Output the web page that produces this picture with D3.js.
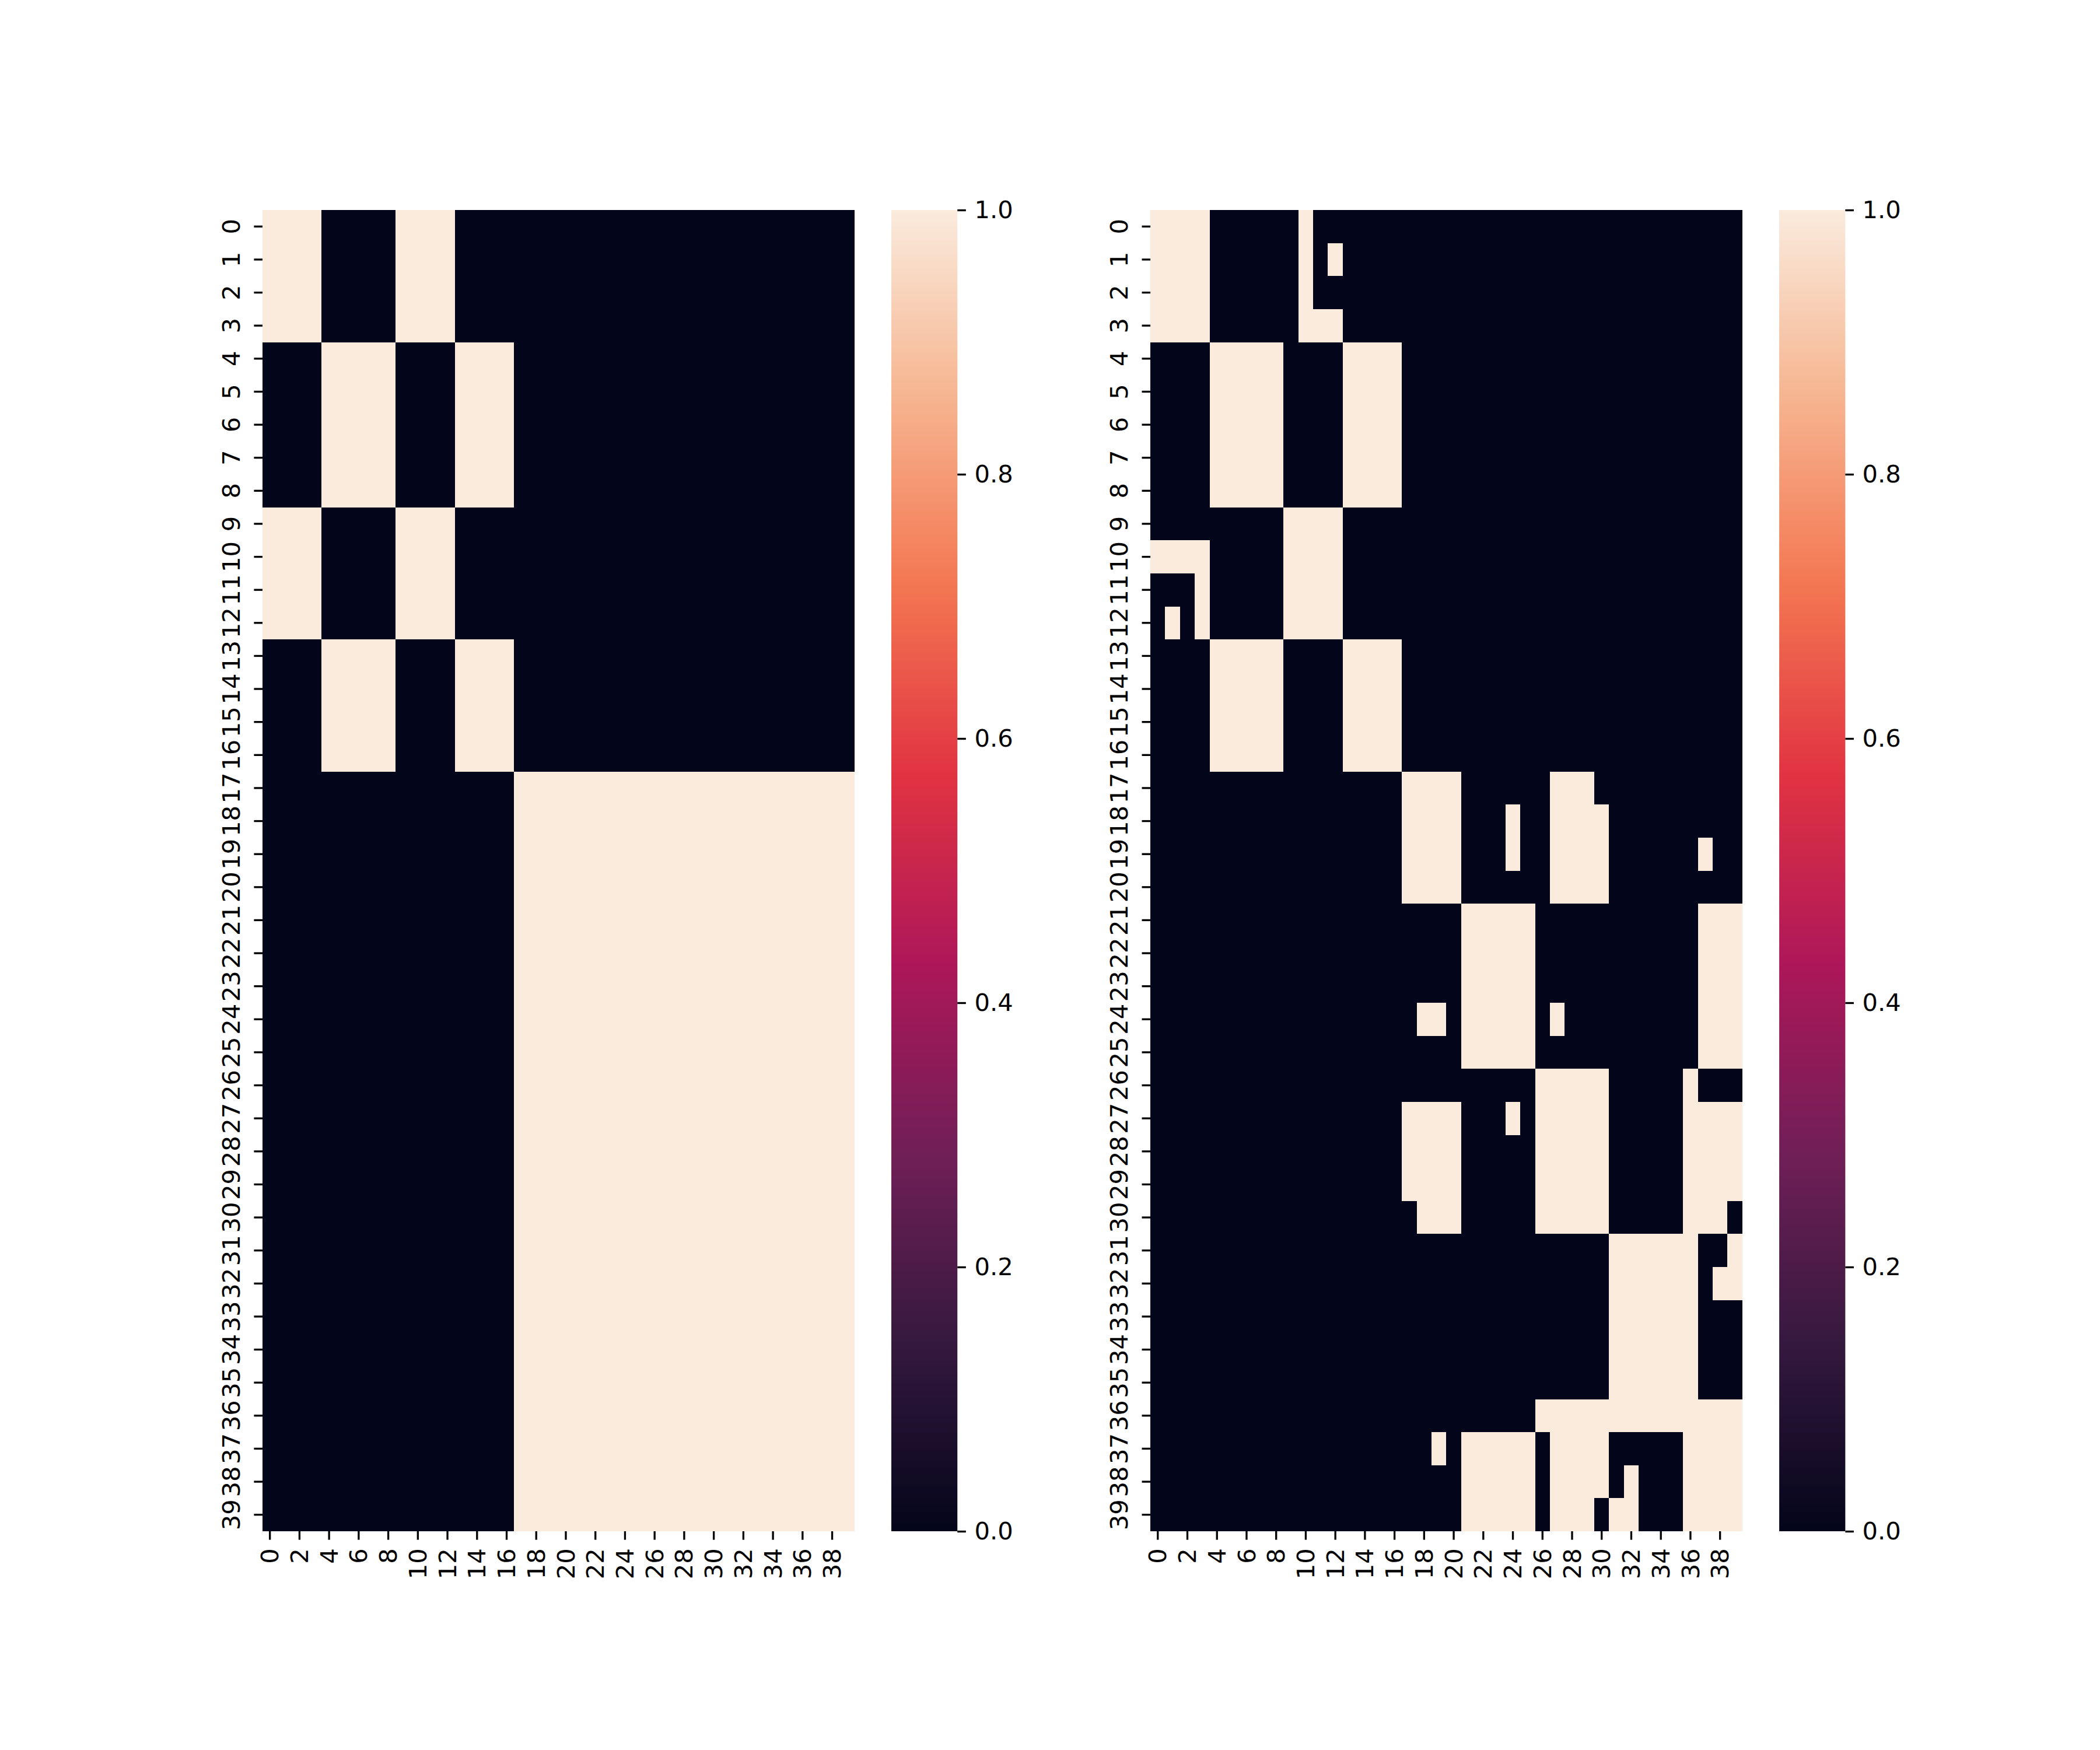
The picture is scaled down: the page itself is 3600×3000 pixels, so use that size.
<!DOCTYPE html>
<html>
<head>
<meta charset="utf-8">
<script src="https://cdn.jsdelivr.net/npm/d3@7"></script>
<style>
  body { margin: 0; background: #fff; }
  svg { display: block; }
  text { font-family: 'DejaVu Sans', sans-serif; fill: #000; }
</style>
</head>
<body>
<svg id="chart" width="3600" height="3000"></svg>
<script>
// 40x40 binary matrices, each row listed as runs of 1-cells [from, to] (inclusive column indices)
const left_ones = [
  [[0, 3], [9, 12]], [[0, 3], [9, 12]], [[0, 3], [9, 12]], [[0, 3], [9, 12]],
  [[4, 8], [13, 16]], [[4, 8], [13, 16]], [[4, 8], [13, 16]], [[4, 8], [13, 16]], [[4, 8], [13, 16]],
  [[0, 3], [9, 12]], [[0, 3], [9, 12]], [[0, 3], [9, 12]], [[0, 3], [9, 12]],
  [[4, 8], [13, 16]], [[4, 8], [13, 16]], [[4, 8], [13, 16]], [[4, 8], [13, 16]],
  [[17, 39]], [[17, 39]], [[17, 39]], [[17, 39]], [[17, 39]], [[17, 39]], [[17, 39]], [[17, 39]],
  [[17, 39]], [[17, 39]], [[17, 39]], [[17, 39]], [[17, 39]], [[17, 39]], [[17, 39]], [[17, 39]],
  [[17, 39]], [[17, 39]], [[17, 39]], [[17, 39]], [[17, 39]], [[17, 39]], [[17, 39]],
];

const right_ones = [
  [[0, 3], [10, 10]],
  [[0, 3], [10, 10], [12, 12]],
  [[0, 3], [10, 10]],
  [[0, 3], [10, 12]],
  [[4, 8], [13, 16]], [[4, 8], [13, 16]], [[4, 8], [13, 16]], [[4, 8], [13, 16]], [[4, 8], [13, 16]],
  [[9, 12]],
  [[0, 3], [9, 12]],
  [[3, 3], [9, 12]],
  [[1, 1], [3, 3], [9, 12]],
  [[4, 8], [13, 16]], [[4, 8], [13, 16]], [[4, 8], [13, 16]], [[4, 8], [13, 16]],
  [[17, 20], [27, 29]],
  [[17, 20], [24, 24], [27, 30]],
  [[17, 20], [24, 24], [27, 30], [37, 37]],
  [[17, 20], [27, 30]],
  [[21, 25], [37, 39]],
  [[21, 25], [37, 39]],
  [[21, 25], [37, 39]],
  [[18, 19], [21, 25], [27, 27], [37, 39]],
  [[21, 25], [37, 39]],
  [[26, 30], [36, 36]],
  [[17, 20], [24, 24], [26, 30], [36, 39]],
  [[17, 20], [26, 30], [36, 39]],
  [[17, 20], [26, 30], [36, 39]],
  [[18, 20], [26, 30], [36, 38]],
  [[31, 36], [39, 39]],
  [[31, 36], [38, 39]],
  [[31, 36]],
  [[31, 36]],
  [[31, 36]],
  [[26, 39]],
  [[19, 19], [21, 25], [27, 30], [36, 39]],
  [[21, 25], [27, 30], [32, 32], [36, 39]],
  [[21, 25], [27, 29], [31, 32], [36, 39]],
];

const row_ticks = [
  0, 1, 2, 3, 4, 5, 6, 7, 8, 9, 10, 11, 12, 13, 14, 15, 16, 17, 18, 19,
  20, 21, 22, 23, 24, 25, 26, 27, 28, 29, 30, 31, 32, 33, 34, 35, 36, 37, 38, 39,
];
const col_ticks = [0, 2, 4, 6, 8, 10, 12, 14, 16, 18, 20, 22, 24, 26, 28, 30, 32, 34, 36, 38];
const cbar_ticks = [0, 0.2, 0.4, 0.6, 0.8, 1.0];

// seaborn "rocket" colormap, sampled
const rocket_pos = [0, 1 / 7, 2 / 7, 3 / 7, 4 / 7, 5 / 7, 6 / 7, 1];
const rocket_col = ['#03051a', '#35193e', '#701f57', '#ad1759', '#e13342', '#f37651', '#f6b48f', '#faebdd'];
const color = d3.scaleLinear(rocket_pos, rocket_col).interpolate(d3.interpolateRgb);

const font_size = 41.67;
const tick_len = 14.6;
const tick_pad = 14.6;
const plot_top = 360;
const plot_h = 2265;
const plot_w = 1014.6;
const cbar_offset = 1078;
const cbar_w = plot_h / 20;

const toMatrix = (ones) =>
  ones.flatMap((runs, r) =>
    d3.range(40).map((c) => ({
      r,
      c,
      v: runs.some(([a, b]) => c >= a && c <= b) ? 1 : 0,
    }))
  );

const panels = [
  { left: 450, ones: left_ones },
  { left: 1972.1, ones: right_ones },
];

const svg = d3.select('#chart');
svg.append('rect').attr('width', 3600).attr('height', 3000).attr('fill', '#fff');
const defs = svg.append('defs');

panels.forEach((p, i) => {
  const x = d3.scaleBand(d3.range(40), [0, plot_w]);
  const y = d3.scaleBand(d3.range(40), [0, plot_h]);

  const g = svg.append('g').attr('transform', `translate(${p.left},${plot_top})`);

  g.append('g')
    .selectAll('rect')
    .data(toMatrix(p.ones))
    .join('rect')
    .attr('x', (d) => x(d.c))
    .attr('y', (d) => y(d.r))
    .attr('width', x.bandwidth())
    .attr('height', y.bandwidth())
    .attr('fill', (d) => color(d.v))
    .attr('shape-rendering', 'crispEdges');

  // y axis: every row, labels rotated
  const yAxis = g
    .append('g')
    .call(
      d3.axisLeft(y).tickValues(row_ticks).tickSize(tick_len).tickFormat((d) => String(d))
    );
  yAxis.select('.domain').remove();
  yAxis.selectAll('line').attr('stroke', '#000').attr('stroke-width', 3.33);
  yAxis
    .selectAll('text')
    .attr('x', null)
    .attr('dy', null)
    .attr('fill', '#000')
    .attr('font-size', font_size)
    .attr('font-family', 'DejaVu Sans')
    .attr('text-anchor', 'middle')
    .attr('transform', `translate(${-(tick_len + tick_pad + 0.236 * font_size)},0) rotate(-90)`);

  // x axis: every second column
  const xAxis = g
    .append('g')
    .attr('transform', `translate(0,${plot_h})`)
    .call(
      d3.axisBottom(x).tickValues(col_ticks).tickSize(tick_len).tickFormat((d) => String(d))
    );
  xAxis.select('.domain').remove();
  xAxis.selectAll('line').attr('stroke', '#000').attr('stroke-width', 3.33);
  xAxis
    .selectAll('text')
    .attr('y', null)
    .attr('dy', null)
    .attr('fill', '#000')
    .attr('font-size', font_size)
    .attr('font-family', 'DejaVu Sans')
    .attr('text-anchor', 'end')
    .attr('transform', `translate(${0.35 * font_size},${tick_len + tick_pad}) rotate(-90)`);

  // colorbar
  const grad = defs
    .append('linearGradient')
    .attr('id', `cbar-${i}`)
    .attr('x1', 0).attr('y1', 1).attr('x2', 0).attr('y2', 0);
  grad
    .selectAll('stop')
    .data(d3.range(0, 101).map((k) => k / 100))
    .join('stop')
    .attr('offset', (d) => d)
    .attr('stop-color', (d) => color(d));

  const cb = svg.append('g').attr('transform', `translate(${p.left + cbar_offset},${plot_top})`);
  cb.append('rect')
    .attr('width', cbar_w)
    .attr('height', plot_h)
    .attr('fill', `url(#cbar-${i})`);

  const cy = d3.scaleLinear([0, 1], [plot_h, 0]);
  const cAxis = cb
    .append('g')
    .attr('transform', `translate(${cbar_w},0)`)
    .call(
      d3.axisRight(cy).tickValues(cbar_ticks).tickSize(tick_len).tickPadding(tick_pad).tickFormat(d3.format('.1f'))
    );
  cAxis.select('.domain').remove();
  cAxis.selectAll('line').attr('stroke', '#000').attr('stroke-width', 3.33);
  cAxis
    .selectAll('text')
    .attr('fill', '#000')
    .attr('font-size', font_size)
    .attr('font-family', 'DejaVu Sans');
});
</script>
</body>
</html>
